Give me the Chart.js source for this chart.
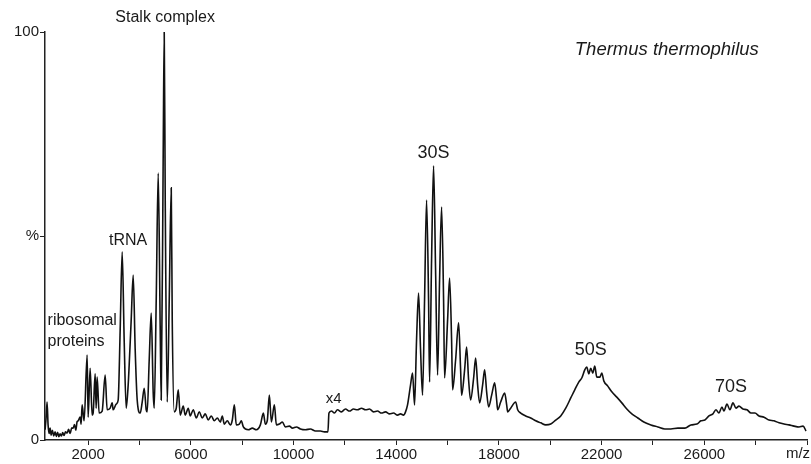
<!DOCTYPE html>
<html>
<head>
<meta charset="utf-8">
<script src="https://cdn.jsdelivr.net/npm/chart.js@4/dist/chart.umd.min.js"></script>
<style>
  html, body { margin: 0; padding: 0; background: #fff; }
  #wrap { width: 811px; height: 464px; }
</style>
</head>
<body>
<div id="wrap"><canvas id="spectrum" width="811" height="464"></canvas></div>
<script>
// m/z values
const mz = [
  323, 362, 401, 440, 480, 518, 560, 610, 660, 713, 760, 810, 860, 908, 960, 1010, 1060, 1120,
  1181, 1240, 1300, 1360, 1415, 1470, 1520, 1570, 1610, 1688, 1727, 1766, 1844, 1961, 2000,
  2078, 2156, 2195, 2273, 2312, 2351, 2429, 2546, 2663, 2741, 2858, 2936, 2975, 3092, 3170,
  3248, 3326, 3404, 3482, 3560, 3599, 3677, 3755, 3833, 3911, 4028, 4106, 4184, 4262, 4301,
  4379, 4457, 4535, 4574, 4652, 4730, 4808, 4847, 4925, 4964, 5003, 5081, 5159, 5237, 5276,
  5354, 5432, 5510, 5588, 5705, 5783, 5900, 5978, 6095, 6212, 6329, 6446, 6563, 6680, 6797,
  6914, 7031, 7148, 7226, 7304, 7421, 7538, 7616, 7694, 7772, 7889, 7967, 8045, 8240, 8396,
  8552, 8708, 8825, 8903, 8981, 9059, 9137, 9254, 9332, 9449, 9566, 9683, 9839, 9956, 10112,
  10268, 10463, 10658, 10853, 11048, 11204, 11340, 11380, 11477, 11594, 11711, 11867, 12023,
  12179, 12335, 12491, 12647, 12803, 12959, 13115, 13271, 13427, 13583, 13739, 13895, 14051,
  14168, 14285, 14363, 14441, 14558, 14636, 14714, 14792, 14870, 14948, 15026, 15104, 15182,
  15260, 15299, 15377, 15455, 15533, 15611, 15689, 15767, 15845, 15884, 16001, 16079, 16157,
  16196, 16313, 16430, 16508, 16547, 16664, 16742, 16820, 16898, 17015, 17093, 17171, 17249,
  17366, 17444, 17522, 17600, 17717, 17834, 17912, 17951, 18068, 18224, 18302, 18341, 18458,
  18653, 18731, 18848, 19043, 19238, 19433, 19628, 19823, 20018, 20213, 20408, 20603, 20798,
  20954, 21110, 21227, 21344, 21422, 21500, 21578, 21656, 21734, 21812, 21929, 22007, 22085,
  22241, 22397, 22592, 22787, 22982, 23177, 23411, 23645, 23918, 24191, 24464, 24698, 24971,
  25244, 25478, 25712, 25868, 26024, 26180, 26336, 26453, 26570, 26687, 26765, 26882, 26999,
  27116, 27233, 27350, 27506, 27662, 27818, 27974, 28130, 28325, 28520, 28715, 28910, 29105,
  29300, 29495, 29690, 29846, 29963
];

// relative intensity (%), same order as mz (x4 zoomed above ~11300)
const intensity = [
  2.5, 5.4, 9.3, 3.7, 1.6, 2.9, 1.2, 2.4, 1.0, 2.0, 0.9, 1.9, 0.8, 1.5, 1.0, 1.8, 1.1, 2.0,
  1.7, 2.6, 1.6, 3.0, 2.9, 3.8, 2.4, 4.5, 4.7, 5.6, 3.9, 8.6, 4.7, 20.8, 5.6,
  17.6, 6.1, 6.6, 16.2, 7.8, 15.4, 6.6, 7.1, 15.9, 7.4, 7.8, 9.1, 7.4, 8.8, 9.8,
  27.0, 46.1, 24.5, 7.8, 13.5, 18.4, 29.4, 40.4, 22.1, 9.8, 6.6, 9.3, 12.7, 7.4, 6.9,
  19.6, 31.1, 11.5, 7.8, 34.3, 65.4, 27.0, 9.8, 71.1, 100, 58.8, 9.3, 34.3, 61.8, 29.4,
  6.9, 7.8, 12.3, 6.1, 8.3, 6.1, 7.8, 5.9, 7.4, 5.4, 6.9, 5.4, 6.4, 4.9, 5.9,
  4.7, 5.4, 4.4, 5.9, 3.9, 4.7, 3.7, 4.9, 8.6, 3.7, 3.9, 4.7, 3.2, 2.5, 2.9,
  2.5, 3.7, 6.6, 3.9, 4.9, 11.0, 4.4, 8.6, 3.7, 3.9, 4.4, 3.2, 3.4, 2.9, 3.2,
  2.7, 2.5, 2.7, 2.2, 2.2, 2.0, 2.0, 6.6, 7.1, 6.6, 7.4, 6.9, 7.6,
  7.1, 7.6, 7.4, 7.8, 7.4, 7.6, 6.9, 7.1, 6.6, 6.9, 6.4, 6.6, 6.1,
  6.4, 6.1, 6.9, 8.6, 13.5, 16.4, 8.6, 24.5, 36.0, 22.1, 11.0, 34.3, 58.8,
  34.3, 14.2, 44.1, 67.2, 41.7, 15.9, 39.2, 57.1, 34.3, 15.2, 29.4, 39.7, 24.5,
  12.3, 19.6, 28.7, 17.2, 11.0, 17.2, 22.8, 14.7, 9.8, 15.2, 20.1, 13.5, 9.1,
  13.5, 17.2, 11.8, 8.1, 11.0, 14.0, 9.8, 7.4, 9.3, 11.5, 8.6, 6.9, 7.8,
  9.3, 7.4, 6.6, 5.9, 5.4, 4.7, 4.2, 3.7, 3.9, 4.9, 5.9, 7.8, 10.3,
  12.3, 14.2, 15.2, 17.2, 17.9, 16.2, 17.6, 16.4, 18.1, 15.4, 15.4, 16.4, 14.5,
  13.2, 11.8, 10.5, 9.1, 7.6, 6.4, 5.4, 4.4, 3.7, 3.2, 2.7, 2.7, 2.9,
  2.9, 3.7, 3.9, 4.7, 4.9, 5.9, 6.4, 7.4, 6.6, 8.1, 7.1, 8.8, 7.4,
  9.1, 7.8, 8.3, 7.6, 7.4, 6.6, 6.6, 5.9, 5.6, 4.9, 4.7, 4.2, 3.9,
  3.7, 3.4, 3.2, 3.4, 2.2
];

const xTicks = [2000, 4000, 6000, 8000, 10000, 12000, 14000, 16000, 18000, 20000, 22000, 24000, 26000, 28000, 30000];
const xLabelled = [2000, 6000, 10000, 14000, 18000, 22000, 26000];
const yTicks = [0, 50, 100];
const yLabels = ["0", "%", "100"];

// peak annotations, placed in data coordinates
const notes = [
  { text: "Stalk complex", x: 5000, y: 103.5, size: 16 },
  { text: "Thermus thermophilus", x: 24540, y: 95.6, size: 18.5, italic: true },
  { text: "tRNA", x: 3560, y: 48.8, size: 16 },
  { text: "ribosomal", x: 420, y: 29.2, size: 16, align: "left" },
  { text: "proteins", x: 420, y: 24.2, size: 16, align: "left" },
  { text: "30S", x: 15455, y: 70.3, size: 18 },
  { text: "50S", x: 21578, y: 22.1, size: 18 },
  { text: "70S", x: 27040, y: 13.0, size: 18 },
  { text: "x4", x: 11560, y: 10.2, size: 15 }
];

const FONT = "'Liberation Sans', Arial, sans-serif";

const notesPlugin = {
  id: "notes",
  afterDraw(chart) {
    const { ctx, scales } = chart;
    ctx.save();
    ctx.fillStyle = "#1a1a1a";
    ctx.textBaseline = "middle";
    notes.forEach(n => {
      ctx.font = (n.italic ? "italic " : "") + n.size + "px " + FONT;
      ctx.textAlign = n.align || "center";
      ctx.fillText(n.text, scales.x.getPixelForValue(n.x), scales.y.getPixelForValue(n.y));
    });
    // axis unit at the right end of the x axis
    ctx.font = "15px " + FONT;
    ctx.textAlign = "center";
    ctx.fillText("m/z", chart.chartArea.right - 9, chart.chartArea.bottom + 14);
    ctx.restore();
  }
};

const points = mz.map((m, i) => ({ x: m, y: intensity[i] }));

new Chart(document.getElementById("spectrum"), {
  type: "line",
  data: {
    datasets: [{
      data: points,
      borderColor: "#111",
      borderWidth: 1.6,
      pointRadius: 0,
      cubicInterpolationMode: "monotone",
      fill: false
    }]
  },
  options: {
    responsive: false,
    animation: false,
    layout: { padding: { top: 32, right: 4, left: 0, bottom: 0 } },
    plugins: { legend: { display: false }, tooltip: { enabled: false } },
    scales: {
      x: {
        type: "linear",
        min: 320,
        max: 30000,
        afterBuildTicks: s => { s.ticks = xTicks.map(v => ({ value: v })); },
        afterFit: s => { s.height = 24; },
        border: { display: true, color: "#222", width: 1.5 },
        grid: { drawOnChartArea: false, drawTicks: true, tickLength: 5, color: "#222", lineWidth: 1 },
        ticks: {
          autoSkip: false,
          maxRotation: 0,
          padding: 1,
          color: "#1a1a1a",
          font: { family: FONT, size: 15 },
          callback: v => xLabelled.includes(v) ? String(v) : ""
        }
      },
      y: {
        min: 0,
        max: 100,
        afterBuildTicks: s => { s.ticks = yTicks.map(v => ({ value: v })); },
        afterFit: s => { s.width = 45; },
        border: { display: true, color: "#222", width: 1.5 },
        grid: { drawOnChartArea: false, drawTicks: true, tickLength: 5, color: "#222", lineWidth: 1 },
        ticks: {
          padding: 1,
          color: "#1a1a1a",
          font: { family: FONT, size: 15 },
          callback: v => yLabels[yTicks.indexOf(v)]
        }
      }
    }
  },
  plugins: [notesPlugin]
});
</script>
</body>
</html>
